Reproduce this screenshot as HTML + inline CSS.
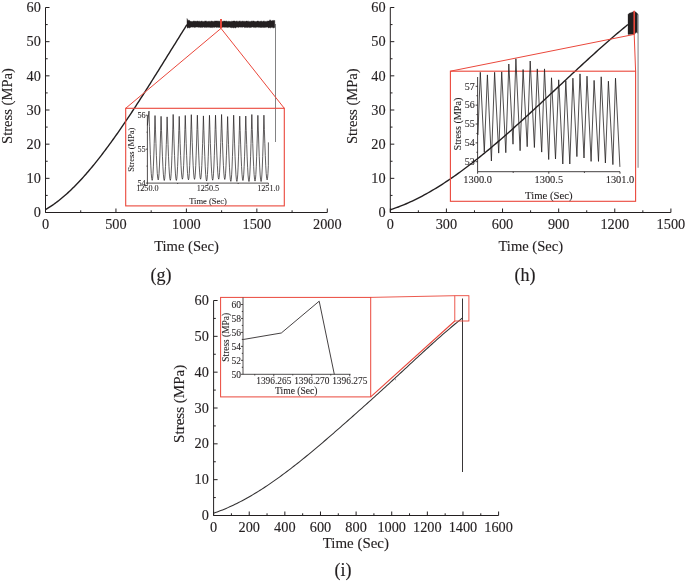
<!DOCTYPE html>
<html lang="en">
<head>
<meta charset="utf-8">
<title>Stress-time curves (g)-(i)</title>
<style>
html,body{margin:0;padding:0;background:#fff;}
body{width:685px;height:581px;overflow:hidden;}
svg{display:block;font-family:'Liberation Serif', 'DejaVu Serif', serif;}
</style>
</head>
<body>
<svg width="685" height="581" viewBox="0 0 685 581">
<rect x="0" y="0" width="685" height="581" fill="#ffffff"/>
<path d="M45.5 7.5 L45.5 212.5 L327.3 212.5" fill="none" stroke="#231f20" stroke-width="1.0" stroke-linejoin="miter" stroke-linecap="butt"/>
<line x1="45.5" y1="212.5" x2="45.5" y2="208.5" stroke="#231f20" stroke-width="1.0"/>
<line x1="115.95" y1="212.5" x2="115.95" y2="208.5" stroke="#231f20" stroke-width="1.0"/>
<line x1="186.4" y1="212.5" x2="186.4" y2="208.5" stroke="#231f20" stroke-width="1.0"/>
<line x1="256.85" y1="212.5" x2="256.85" y2="208.5" stroke="#231f20" stroke-width="1.0"/>
<line x1="327.3" y1="212.5" x2="327.3" y2="208.5" stroke="#231f20" stroke-width="1.0"/>
<line x1="80.72" y1="212.5" x2="80.72" y2="210.3" stroke="#231f20" stroke-width="1.0"/>
<line x1="151.18" y1="212.5" x2="151.18" y2="210.3" stroke="#231f20" stroke-width="1.0"/>
<line x1="221.62" y1="212.5" x2="221.62" y2="210.3" stroke="#231f20" stroke-width="1.0"/>
<line x1="292.08" y1="212.5" x2="292.08" y2="210.3" stroke="#231f20" stroke-width="1.0"/>
<line x1="45.5" y1="212.5" x2="49.5" y2="212.5" stroke="#231f20" stroke-width="1.0"/>
<line x1="45.5" y1="178.33" x2="49.5" y2="178.33" stroke="#231f20" stroke-width="1.0"/>
<line x1="45.5" y1="144.17" x2="49.5" y2="144.17" stroke="#231f20" stroke-width="1.0"/>
<line x1="45.5" y1="110" x2="49.5" y2="110" stroke="#231f20" stroke-width="1.0"/>
<line x1="45.5" y1="75.83" x2="49.5" y2="75.83" stroke="#231f20" stroke-width="1.0"/>
<line x1="45.5" y1="41.67" x2="49.5" y2="41.67" stroke="#231f20" stroke-width="1.0"/>
<line x1="45.5" y1="7.5" x2="49.5" y2="7.5" stroke="#231f20" stroke-width="1.0"/>
<line x1="45.5" y1="195.42" x2="47.7" y2="195.42" stroke="#231f20" stroke-width="1.0"/>
<line x1="45.5" y1="161.25" x2="47.7" y2="161.25" stroke="#231f20" stroke-width="1.0"/>
<line x1="45.5" y1="127.08" x2="47.7" y2="127.08" stroke="#231f20" stroke-width="1.0"/>
<line x1="45.5" y1="92.92" x2="47.7" y2="92.92" stroke="#231f20" stroke-width="1.0"/>
<line x1="45.5" y1="58.75" x2="47.7" y2="58.75" stroke="#231f20" stroke-width="1.0"/>
<line x1="45.5" y1="24.58" x2="47.7" y2="24.58" stroke="#231f20" stroke-width="1.0"/>
<text x="45.5" y="228.6" font-size="14.3" text-anchor="middle" fill="#231f20" stroke="#231f20" stroke-width="0.13">0</text>
<text x="115.95" y="228.6" font-size="14.3" text-anchor="middle" fill="#231f20" stroke="#231f20" stroke-width="0.13">500</text>
<text x="186.4" y="228.6" font-size="14.3" text-anchor="middle" fill="#231f20" stroke="#231f20" stroke-width="0.13">1000</text>
<text x="256.85" y="228.6" font-size="14.3" text-anchor="middle" fill="#231f20" stroke="#231f20" stroke-width="0.13">1500</text>
<text x="327.3" y="228.6" font-size="14.3" text-anchor="middle" fill="#231f20" stroke="#231f20" stroke-width="0.13">2000</text>
<text x="40.9" y="217.2" font-size="14.3" text-anchor="end" fill="#231f20" stroke="#231f20" stroke-width="0.13">0</text>
<text x="40.9" y="183.03" font-size="14.3" text-anchor="end" fill="#231f20" stroke="#231f20" stroke-width="0.13">10</text>
<text x="40.9" y="148.87" font-size="14.3" text-anchor="end" fill="#231f20" stroke="#231f20" stroke-width="0.13">20</text>
<text x="40.9" y="114.7" font-size="14.3" text-anchor="end" fill="#231f20" stroke="#231f20" stroke-width="0.13">30</text>
<text x="40.9" y="80.53" font-size="14.3" text-anchor="end" fill="#231f20" stroke="#231f20" stroke-width="0.13">40</text>
<text x="40.9" y="46.37" font-size="14.3" text-anchor="end" fill="#231f20" stroke="#231f20" stroke-width="0.13">50</text>
<text x="40.9" y="12.2" font-size="14.3" text-anchor="end" fill="#231f20" stroke="#231f20" stroke-width="0.13">60</text>
<text x="186.5" y="250.5" font-size="14.6" text-anchor="middle" fill="#231f20" stroke="#231f20" stroke-width="0.13">Time (Sec)</text>
<text x="11.5" y="106" font-size="14.6" text-anchor="middle" fill="#231f20" stroke="#231f20" stroke-width="0.13" transform="rotate(-90 11.5 106)">Stress (MPa)</text>
<text x="161" y="280.5" font-size="18" text-anchor="middle" fill="#231f20" stroke="#231f20" stroke-width="0.16">(g)</text>
<path d="M45.5 209.62 L46.69 208.92 L47.88 208.2 L49.06 207.46 L50.25 206.69 L51.44 205.91 L52.63 205.1 L53.82 204.26 L55.01 203.41 L56.19 202.53 L57.38 201.63 L58.57 200.71 L59.76 199.77 L60.95 198.81 L62.13 197.83 L63.32 196.83 L64.51 195.8 L65.7 194.76 L66.89 193.7 L68.08 192.61 L69.26 191.51 L70.45 190.39 L71.64 189.25 L72.83 188.1 L74.02 186.92 L75.2 185.73 L76.39 184.51 L77.58 183.28 L78.77 182.04 L79.96 180.77 L81.15 179.49 L82.33 178.19 L83.52 176.88 L84.71 175.54 L85.9 174.2 L87.09 172.83 L88.27 171.45 L89.46 170.06 L90.65 168.65 L91.84 167.23 L93.03 165.79 L94.22 164.33 L95.4 162.86 L96.59 161.38 L97.78 159.88 L98.97 158.37 L100.16 156.85 L101.34 155.32 L102.53 153.77 L103.72 152.2 L104.91 150.63 L106.1 149.04 L107.29 147.44 L108.47 145.83 L109.66 144.21 L110.85 142.58 L112.04 140.93 L113.23 139.28 L114.41 137.61 L115.6 135.93 L116.79 134.25 L117.98 132.55 L119.17 130.84 L120.36 129.13 L121.54 127.4 L122.73 125.66 L123.92 123.92 L125.11 122.17 L126.3 120.41 L127.48 118.64 L128.67 116.86 L129.86 115.08 L131.05 113.28 L132.24 111.49 L133.43 109.68 L134.61 107.87 L135.8 106.05 L136.99 104.22 L138.18 102.39 L139.37 100.55 L140.55 98.7 L141.74 96.85 L142.93 95 L144.12 93.14 L145.31 91.27 L146.5 89.4 L147.68 87.53 L148.87 85.65 L150.06 83.77 L151.25 81.89 L152.44 80 L153.62 78.11 L154.81 76.21 L156 74.31 L157.19 72.41 L158.38 70.51 L159.57 68.6 L160.75 66.7 L161.94 64.79 L163.13 62.88 L164.32 60.97 L165.51 59.06 L166.69 57.14 L167.88 55.23 L169.07 53.32 L170.26 51.4 L171.45 49.49 L172.64 47.58 L173.82 45.67 L175.01 43.76 L176.2 41.85 L177.39 39.94 L178.58 38.03 L179.76 36.12 L180.95 34.22 L182.14 32.32 L183.33 30.42 L184.52 28.52 L185.7 26.63 L186.89 24.74" fill="none" stroke="#231f20" stroke-width="1.4" stroke-linejoin="round" stroke-linecap="butt"/>
<path d="M187 18.5 L187.8 20.58 L188.6 20.24 L189.39 20.3 L190.19 21.33 L190.99 21.3 L191.79 21.54 L192.59 21.47 L193.39 21.04 L194.18 21.14 L194.98 21.06 L195.78 21.33 L196.58 21.28 L197.38 20.99 L198.17 21.36 L198.97 21.14 L199.77 21.22 L200.57 21.43 L201.37 21.1 L202.17 21.27 L202.96 21.39 L203.76 21.54 L204.56 21.2 L205.36 21.04 L206.16 20.97 L206.95 21.41 L207.75 21.48 L208.55 21.37 L209.35 21.3 L210.15 21.45 L210.95 21.23 L211.74 20.99 L212.54 21.34 L213.34 21.44 L214.14 21.18 L214.94 20.96 L215.73 21.05 L216.53 20.99 L217.33 21.03 L218.13 21.18 L218.93 21 L219.73 21.28 L220.52 21.44 L221.32 21.12 L222.12 21.17 L222.92 21.52 L223.72 21.06 L224.51 21.09 L225.31 21.3 L226.11 20.95 L226.91 21.17 L227.71 21.52 L228.51 21.26 L229.3 21.36 L230.1 21.49 L230.9 21.47 L231.7 21.19 L232.5 21.33 L233.29 21.08 L234.09 20.98 L234.89 21.01 L235.69 21.47 L236.49 21.1 L237.29 21.17 L238.08 21.46 L238.88 21.23 L239.68 21 L240.48 21.16 L241.28 21.45 L242.07 20.96 L242.87 21.27 L243.67 21.28 L244.47 21.27 L245.27 21.47 L246.07 21.11 L246.86 21.05 L247.66 21.27 L248.46 21.15 L249.26 21.44 L250.06 21.46 L250.85 21.44 L251.65 21.09 L252.45 21.16 L253.25 20.97 L254.05 21.11 L254.85 21.52 L255.64 21.51 L256.44 21.52 L257.24 21.08 L258.04 21.07 L258.84 21.32 L259.63 21.45 L260.43 21.34 L261.23 21 L262.03 21.5 L262.83 21.4 L263.63 21.06 L264.42 21.15 L265.22 21.53 L266.02 21.19 L266.82 21.38 L267.62 21.03 L268.41 21.12 L269.21 20.92 L270.01 19.66 L270.81 20.55 L271.61 20.94 L272.41 20.58 L273.2 20.4 L274 20.6 L274.8 20.42 L274.8 27.33 L274 28.09 L273.2 27.82 L272.41 27.6 L271.61 27.3 L270.81 28.08 L270.01 27.4 L269.21 27.72 L268.41 27.98 L267.62 27.09 L266.82 27.1 L266.02 27.57 L265.22 27.24 L264.42 27.48 L263.63 27.47 L262.83 27.29 L262.03 27.47 L261.23 27.4 L260.43 27.48 L259.63 27.29 L258.84 27.54 L258.04 27.12 L257.24 27.14 L256.44 27.22 L255.64 27.59 L254.85 27.27 L254.05 27.42 L253.25 27.17 L252.45 27.02 L251.65 27.31 L250.85 27.44 L250.06 27.48 L249.26 27.59 L248.46 27.13 L247.66 27.47 L246.86 27.46 L246.07 27.22 L245.27 27.42 L244.47 27.59 L243.67 27.02 L242.87 27.09 L242.07 27.57 L241.28 27.1 L240.48 27.16 L239.68 27.06 L238.88 27.29 L238.08 27.6 L237.29 27.07 L236.49 27.21 L235.69 27.95 L234.89 27.65 L234.09 27.58 L233.29 27.91 L232.5 27.52 L231.7 27.76 L230.9 27.48 L230.1 27.47 L229.3 27.03 L228.51 27.37 L227.71 27.41 L226.91 27.34 L226.11 27.25 L225.31 27.16 L224.51 27.29 L223.72 27.14 L222.92 27.09 L222.12 27.53 L221.32 27.25 L220.52 27.52 L219.73 27.53 L218.93 27.27 L218.13 27.52 L217.33 27.15 L216.53 27.46 L215.73 27.07 L214.94 27.28 L214.14 27.4 L213.34 27.17 L212.54 27.6 L211.74 27.42 L210.95 27.4 L210.15 27.57 L209.35 27.27 L208.55 27.36 L207.75 27.19 L206.95 27.34 L206.16 27.4 L205.36 27.29 L204.56 27.45 L203.76 27.07 L202.96 27.17 L202.17 27.53 L201.37 27.34 L200.57 27.42 L199.77 27.18 L198.97 27.35 L198.17 27.26 L197.38 27.12 L196.58 27.04 L195.78 27.22 L194.98 27.35 L194.18 27.49 L193.39 27.07 L192.59 27.17 L191.79 27.03 L190.99 27.24 L190.19 27.57 L189.39 28.01 L188.6 27.59 L187.8 28.13 L187 27.39 Z" fill="#231f20" stroke="#231f20" stroke-width="0.4" stroke-linejoin="round" stroke-linecap="butt"/>
<line x1="275.5" y1="24" x2="275.5" y2="142" stroke="#58595b" stroke-width="0.75"/>
<line x1="221" y1="18.9" x2="221" y2="28.4" stroke="#ea473b" stroke-width="1.9"/>
<path d="M125.7 108.3 L221 28.4 L284.3 108.3" fill="none" stroke="#ea473b" stroke-width="1.0" stroke-linejoin="miter" stroke-linecap="butt"/>
<rect x="125.7" y="108.3" width="158.6" height="97.6" fill="none" stroke="#ea473b" stroke-width="1.1"/>
<path d="M147.4 115.2 L147.4 183.1 L268.4 183.1" fill="none" stroke="#231f20" stroke-width="0.8" stroke-linejoin="miter" stroke-linecap="butt"/>
<line x1="147.4" y1="183.1" x2="147.4" y2="184.7" stroke="#231f20" stroke-width="0.8"/>
<line x1="207.9" y1="183.1" x2="207.9" y2="184.7" stroke="#231f20" stroke-width="0.8"/>
<line x1="268.4" y1="183.1" x2="268.4" y2="184.7" stroke="#231f20" stroke-width="0.8"/>
<line x1="177.65" y1="183.1" x2="177.65" y2="184" stroke="#231f20" stroke-width="0.8"/>
<line x1="238.15" y1="183.1" x2="238.15" y2="184" stroke="#231f20" stroke-width="0.8"/>
<line x1="147.4" y1="183.1" x2="145.8" y2="183.1" stroke="#231f20" stroke-width="0.8"/>
<line x1="147.4" y1="149.15" x2="145.8" y2="149.15" stroke="#231f20" stroke-width="0.8"/>
<line x1="147.4" y1="115.2" x2="145.8" y2="115.2" stroke="#231f20" stroke-width="0.8"/>
<line x1="147.4" y1="166.12" x2="146.5" y2="166.12" stroke="#231f20" stroke-width="0.8"/>
<line x1="147.4" y1="132.18" x2="146.5" y2="132.18" stroke="#231f20" stroke-width="0.8"/>
<text x="147.4" y="190.9" font-size="8.2" text-anchor="middle" fill="#231f20" stroke="#231f20" stroke-width="0.07">1250.0</text>
<text x="207.9" y="190.9" font-size="8.2" text-anchor="middle" fill="#231f20" stroke="#231f20" stroke-width="0.07">1250.5</text>
<text x="268.4" y="190.9" font-size="8.2" text-anchor="middle" fill="#231f20" stroke="#231f20" stroke-width="0.07">1251.0</text>
<text x="145.7" y="185.7" font-size="8.2" text-anchor="end" fill="#231f20" stroke="#231f20" stroke-width="0.07">54</text>
<text x="145.7" y="151.75" font-size="8.2" text-anchor="end" fill="#231f20" stroke="#231f20" stroke-width="0.07">55</text>
<text x="145.7" y="117.8" font-size="8.2" text-anchor="end" fill="#231f20" stroke="#231f20" stroke-width="0.07">56</text>
<text x="208" y="203.9" font-size="8.5" text-anchor="middle" fill="#231f20" stroke="#231f20" stroke-width="0.08">Time (Sec)</text>
<text x="134.4" y="149.7" font-size="8.5" text-anchor="middle" fill="#231f20" stroke="#231f20" stroke-width="0.08" transform="rotate(-90 134.4 149.7)">Stress (MPa)</text>
<path d="M147.4 125.38 L148.97 111.13 L149.43 126.53 L149.89 141.16 L150.35 154.29 L150.81 165.25 L151.26 173.5 L151.72 178.62 L152.18 180.35 L152.59 178.73 L152.99 173.93 L153.4 166.21 L153.8 155.95 L154.21 143.67 L154.62 129.97 L155.02 115.55 L155.48 129.86 L155.94 143.45 L156.4 155.65 L156.86 165.83 L157.31 173.49 L157.77 178.25 L158.23 179.86 L158.64 178.27 L159.04 173.57 L159.45 166 L159.85 155.94 L160.26 143.9 L160.67 130.47 L161.07 116.34 L161.53 130.62 L161.99 144.18 L162.45 156.35 L162.91 166.51 L163.36 174.16 L163.82 178.9 L164.28 180.51 L164.69 178.92 L165.09 174.21 L165.5 166.63 L165.9 156.56 L166.31 144.49 L166.72 131.04 L167.12 116.89 L167.58 131 L168.04 144.4 L168.5 156.42 L168.96 166.46 L169.41 174.01 L169.87 178.7 L170.33 180.29 L170.74 178.64 L171.14 173.77 L171.55 165.93 L171.95 155.5 L172.36 143.02 L172.77 129.11 L173.17 114.46 L173.63 129.14 L174.09 143.09 L174.55 155.6 L175.01 166.05 L175.46 173.91 L175.92 178.79 L176.38 180.44 L176.79 178.84 L177.19 174.1 L177.6 166.46 L178 156.32 L178.41 144.17 L178.82 130.63 L179.22 116.37 L179.68 130.35 L180.14 143.62 L180.6 155.53 L181.06 165.48 L181.51 172.96 L181.97 177.61 L182.43 179.18 L182.84 177.59 L183.24 172.87 L183.65 165.28 L184.05 155.19 L184.46 143.1 L184.87 129.63 L185.27 115.45 L185.73 129.78 L186.19 143.39 L186.65 155.6 L187.11 165.79 L187.56 173.47 L188.02 178.23 L188.48 179.84 L188.89 178.21 L189.29 173.39 L189.7 165.63 L190.1 155.31 L190.51 142.95 L190.92 129.18 L191.32 114.68 L191.78 129.07 L192.24 142.75 L192.7 155.01 L193.16 165.25 L193.61 172.96 L194.07 177.74 L194.53 179.36 L194.94 177.75 L195.34 173.01 L195.75 165.36 L196.15 155.2 L196.56 143.04 L196.97 129.48 L197.37 115.2 L197.83 129.44 L198.29 142.96 L198.75 155.09 L199.21 165.22 L199.66 172.85 L200.12 177.58 L200.58 179.18 L200.99 177.6 L201.39 172.92 L201.8 165.38 L202.2 155.36 L202.61 143.36 L203.02 129.98 L203.42 115.9 L203.88 130.4 L204.34 144.16 L204.8 156.51 L205.26 166.83 L205.71 174.59 L206.17 179.4 L206.63 181.04 L207.04 179.39 L207.44 174.53 L207.85 166.7 L208.25 156.29 L208.66 143.83 L209.07 129.94 L209.47 115.31 L209.93 129.76 L210.39 143.48 L210.85 155.78 L211.31 166.06 L211.76 173.79 L212.22 178.59 L212.68 180.22 L213.09 178.59 L213.49 173.78 L213.9 166.04 L214.3 155.74 L214.71 143.41 L215.12 129.67 L215.52 115.2 L215.98 129.44 L216.44 142.96 L216.9 155.09 L217.36 165.22 L217.81 172.84 L218.27 177.58 L218.73 179.18 L219.14 177.56 L219.54 172.77 L219.95 165.07 L220.35 154.83 L220.76 142.56 L221.17 128.89 L221.57 114.5 L222.03 128.96 L222.49 142.69 L222.95 155 L223.41 165.29 L223.86 173.03 L224.32 177.83 L224.78 179.46 L225.19 177.88 L225.59 173.23 L226 165.74 L226.4 155.78 L226.81 143.86 L227.22 130.57 L227.62 116.57 L228.08 130.99 L228.54 144.69 L229 156.97 L229.46 167.23 L229.91 174.95 L230.37 179.74 L230.83 181.37 L231.24 179.71 L231.64 174.82 L232.05 166.93 L232.45 156.45 L232.86 143.9 L233.27 129.91 L233.67 115.19 L234.13 129.92 L234.59 143.92 L235.05 156.48 L235.51 166.96 L235.96 174.85 L236.42 179.75 L236.88 181.41 L237.29 179.78 L237.69 174.95 L238.1 167.17 L238.5 156.84 L238.91 144.46 L239.32 130.66 L239.72 116.14 L240.18 130.47 L240.64 144.08 L241.1 156.29 L241.56 166.49 L242.01 174.16 L242.47 178.93 L242.93 180.54 L243.34 178.92 L243.74 174.15 L244.15 166.47 L244.55 156.26 L244.96 144.03 L245.37 130.4 L245.77 116.05 L246.23 130.63 L246.69 144.47 L247.15 156.89 L247.61 167.26 L248.06 175.06 L248.52 179.9 L248.98 181.54 L249.39 179.86 L249.79 174.91 L250.2 166.93 L250.6 156.32 L251.01 143.61 L251.42 129.45 L251.82 114.54 L252.28 129.35 L252.74 143.41 L253.2 156.03 L253.66 166.57 L254.11 174.5 L254.57 179.42 L255.03 181.09 L255.44 179.44 L255.84 174.58 L256.25 166.75 L256.65 156.34 L257.06 143.87 L257.47 129.98 L257.87 115.35 L258.33 130.08 L258.79 144.07 L259.25 156.62 L259.71 167.1 L260.16 174.99 L260.62 179.88 L261.08 181.54 L261.49 179.88 L261.89 174.97 L262.3 167.07 L262.7 156.56 L263.11 143.97 L263.52 129.95 L263.92 115.18 L264.38 129.59 L264.84 143.27 L265.3 155.55 L265.76 165.8 L266.21 173.51 L266.67 178.3 L267.13 179.92 L267.54 178.29 L267.94 173.45 L268.35 165.67 L268.4 142.36" fill="none" stroke="#231f20" stroke-width="0.72" stroke-linejoin="round" stroke-linecap="butt"/>
<path d="M390.3 7.5 L390.3 212.5 L670.9 212.5" fill="none" stroke="#231f20" stroke-width="1.0" stroke-linejoin="miter" stroke-linecap="butt"/>
<line x1="390.3" y1="212.5" x2="390.3" y2="208.5" stroke="#231f20" stroke-width="1.0"/>
<line x1="446.42" y1="212.5" x2="446.42" y2="208.5" stroke="#231f20" stroke-width="1.0"/>
<line x1="502.54" y1="212.5" x2="502.54" y2="208.5" stroke="#231f20" stroke-width="1.0"/>
<line x1="558.66" y1="212.5" x2="558.66" y2="208.5" stroke="#231f20" stroke-width="1.0"/>
<line x1="614.78" y1="212.5" x2="614.78" y2="208.5" stroke="#231f20" stroke-width="1.0"/>
<line x1="670.9" y1="212.5" x2="670.9" y2="208.5" stroke="#231f20" stroke-width="1.0"/>
<line x1="418.36" y1="212.5" x2="418.36" y2="210.3" stroke="#231f20" stroke-width="1.0"/>
<line x1="474.48" y1="212.5" x2="474.48" y2="210.3" stroke="#231f20" stroke-width="1.0"/>
<line x1="530.6" y1="212.5" x2="530.6" y2="210.3" stroke="#231f20" stroke-width="1.0"/>
<line x1="586.72" y1="212.5" x2="586.72" y2="210.3" stroke="#231f20" stroke-width="1.0"/>
<line x1="642.84" y1="212.5" x2="642.84" y2="210.3" stroke="#231f20" stroke-width="1.0"/>
<line x1="390.3" y1="212.5" x2="394.3" y2="212.5" stroke="#231f20" stroke-width="1.0"/>
<line x1="390.3" y1="178.33" x2="394.3" y2="178.33" stroke="#231f20" stroke-width="1.0"/>
<line x1="390.3" y1="144.17" x2="394.3" y2="144.17" stroke="#231f20" stroke-width="1.0"/>
<line x1="390.3" y1="110" x2="394.3" y2="110" stroke="#231f20" stroke-width="1.0"/>
<line x1="390.3" y1="75.83" x2="394.3" y2="75.83" stroke="#231f20" stroke-width="1.0"/>
<line x1="390.3" y1="41.67" x2="394.3" y2="41.67" stroke="#231f20" stroke-width="1.0"/>
<line x1="390.3" y1="7.5" x2="394.3" y2="7.5" stroke="#231f20" stroke-width="1.0"/>
<line x1="390.3" y1="195.42" x2="392.5" y2="195.42" stroke="#231f20" stroke-width="1.0"/>
<line x1="390.3" y1="161.25" x2="392.5" y2="161.25" stroke="#231f20" stroke-width="1.0"/>
<line x1="390.3" y1="127.08" x2="392.5" y2="127.08" stroke="#231f20" stroke-width="1.0"/>
<line x1="390.3" y1="92.92" x2="392.5" y2="92.92" stroke="#231f20" stroke-width="1.0"/>
<line x1="390.3" y1="58.75" x2="392.5" y2="58.75" stroke="#231f20" stroke-width="1.0"/>
<line x1="390.3" y1="24.58" x2="392.5" y2="24.58" stroke="#231f20" stroke-width="1.0"/>
<text x="390.3" y="228.7" font-size="14.3" text-anchor="middle" fill="#231f20" stroke="#231f20" stroke-width="0.13">0</text>
<text x="446.42" y="228.7" font-size="14.3" text-anchor="middle" fill="#231f20" stroke="#231f20" stroke-width="0.13">300</text>
<text x="502.54" y="228.7" font-size="14.3" text-anchor="middle" fill="#231f20" stroke="#231f20" stroke-width="0.13">600</text>
<text x="558.66" y="228.7" font-size="14.3" text-anchor="middle" fill="#231f20" stroke="#231f20" stroke-width="0.13">900</text>
<text x="614.78" y="228.7" font-size="14.3" text-anchor="middle" fill="#231f20" stroke="#231f20" stroke-width="0.13">1200</text>
<text x="670.9" y="228.7" font-size="14.3" text-anchor="middle" fill="#231f20" stroke="#231f20" stroke-width="0.13">1500</text>
<text x="385.6" y="217.2" font-size="14.3" text-anchor="end" fill="#231f20" stroke="#231f20" stroke-width="0.13">0</text>
<text x="385.6" y="183.03" font-size="14.3" text-anchor="end" fill="#231f20" stroke="#231f20" stroke-width="0.13">10</text>
<text x="385.6" y="148.87" font-size="14.3" text-anchor="end" fill="#231f20" stroke="#231f20" stroke-width="0.13">20</text>
<text x="385.6" y="114.7" font-size="14.3" text-anchor="end" fill="#231f20" stroke="#231f20" stroke-width="0.13">30</text>
<text x="385.6" y="80.53" font-size="14.3" text-anchor="end" fill="#231f20" stroke="#231f20" stroke-width="0.13">40</text>
<text x="385.6" y="46.37" font-size="14.3" text-anchor="end" fill="#231f20" stroke="#231f20" stroke-width="0.13">50</text>
<text x="385.6" y="12.2" font-size="14.3" text-anchor="end" fill="#231f20" stroke="#231f20" stroke-width="0.13">60</text>
<text x="530.8" y="251.2" font-size="14.6" text-anchor="middle" fill="#231f20" stroke="#231f20" stroke-width="0.13">Time (Sec)</text>
<text x="357.4" y="106.2" font-size="14.6" text-anchor="middle" fill="#231f20" stroke="#231f20" stroke-width="0.13" transform="rotate(-90 357.4 106.2)">Stress (MPa)</text>
<text x="525" y="281" font-size="18" text-anchor="middle" fill="#231f20" stroke="#231f20" stroke-width="0.16">(h)</text>
<path d="M390.3 209.74 L392.3 209.09 L394.29 208.42 L396.29 207.71 L398.29 206.98 L400.28 206.21 L402.28 205.42 L404.27 204.6 L406.27 203.76 L408.27 202.88 L410.26 201.98 L412.26 201.06 L414.26 200.11 L416.25 199.13 L418.25 198.13 L420.25 197.1 L422.24 196.05 L424.24 194.98 L426.24 193.88 L428.23 192.76 L430.23 191.61 L432.22 190.45 L434.22 189.26 L436.22 188.05 L438.21 186.82 L440.21 185.56 L442.21 184.29 L444.2 183 L446.2 181.68 L448.2 180.35 L450.19 178.99 L452.19 177.62 L454.19 176.23 L456.18 174.82 L458.18 173.4 L460.17 171.95 L462.17 170.49 L464.17 169.01 L466.16 167.52 L468.16 166.01 L470.16 164.48 L472.15 162.94 L474.15 161.38 L476.15 159.81 L478.14 158.22 L480.14 156.62 L482.14 155.01 L484.13 153.38 L486.13 151.74 L488.12 150.09 L490.12 148.42 L492.12 146.75 L494.11 145.06 L496.11 143.36 L498.11 141.65 L500.1 139.93 L502.1 138.2 L504.1 136.46 L506.09 134.71 L508.09 132.96 L510.09 131.19 L512.08 129.41 L514.08 127.63 L516.07 125.84 L518.07 124.04 L520.07 122.24 L522.06 120.43 L524.06 118.61 L526.06 116.79 L528.05 114.96 L530.05 113.13 L532.05 111.29 L534.04 109.45 L536.04 107.6 L538.04 105.75 L540.03 103.9 L542.03 102.04 L544.02 100.18 L546.02 98.32 L548.02 96.46 L550.01 94.6 L552.01 92.73 L554.01 90.87 L556 89 L558 87.13 L560 85.27 L561.99 83.4 L563.99 81.54 L565.99 79.68 L567.98 77.81 L569.98 75.96 L571.97 74.1 L573.97 72.24 L575.97 70.39 L577.96 68.55 L579.96 66.7 L581.96 64.86 L583.95 63.03 L585.95 61.2 L587.95 59.38 L589.94 57.56 L591.94 55.75 L593.94 53.94 L595.93 52.14 L597.93 50.35 L599.92 48.56 L601.92 46.79 L603.92 45.02 L605.91 43.26 L607.91 41.51 L609.91 39.76 L611.9 38.03 L613.9 36.31 L615.9 34.59 L617.89 32.89 L619.89 31.2 L621.89 29.52 L623.88 27.85 L625.88 26.2 L627.87 24.56" fill="none" stroke="#231f20" stroke-width="1.4" stroke-linejoin="round" stroke-linecap="butt"/>
<path d="M628 14.4 L629.2 13.2 L631.5 12.4 L633.6 11.6 L634.9 11.4 L636.4 12.6 L637.9 14 L637.9 33.4 L636.2 32.2 L634.6 34.3 L628 34.4 Z" fill="#231f20" stroke="#231f20" stroke-width="0.3" stroke-linejoin="round" stroke-linecap="butt"/>
<line x1="638.1" y1="14.5" x2="638.1" y2="167.8" stroke="#a1a2a5" stroke-width="1.4"/>
<line x1="634.2" y1="10.8" x2="634.2" y2="34.4" stroke="#ea473b" stroke-width="1.6"/>
<path d="M450.4 71.2 L634.2 34.4 L635.6 71.2" fill="none" stroke="#ea473b" stroke-width="1.0" stroke-linejoin="miter" stroke-linecap="butt"/>
<rect x="450.4" y="71.2" width="185.2" height="130.1" fill="none" stroke="#ea473b" stroke-width="1.1"/>
<path d="M477.6 77 L477.6 171.7 L620 171.7" fill="none" stroke="#231f20" stroke-width="0.85" stroke-linejoin="miter" stroke-linecap="butt"/>
<line x1="477.6" y1="171.7" x2="477.6" y2="173.7" stroke="#231f20" stroke-width="0.85"/>
<line x1="548.8" y1="171.7" x2="548.8" y2="173.7" stroke="#231f20" stroke-width="0.85"/>
<line x1="620" y1="171.7" x2="620" y2="173.7" stroke="#231f20" stroke-width="0.85"/>
<line x1="513.2" y1="171.7" x2="513.2" y2="172.9" stroke="#231f20" stroke-width="0.85"/>
<line x1="584.4" y1="171.7" x2="584.4" y2="172.9" stroke="#231f20" stroke-width="0.85"/>
<line x1="477.6" y1="161.7" x2="475.6" y2="161.7" stroke="#231f20" stroke-width="0.85"/>
<line x1="477.6" y1="142.85" x2="475.6" y2="142.85" stroke="#231f20" stroke-width="0.85"/>
<line x1="477.6" y1="124" x2="475.6" y2="124" stroke="#231f20" stroke-width="0.85"/>
<line x1="477.6" y1="105.15" x2="475.6" y2="105.15" stroke="#231f20" stroke-width="0.85"/>
<line x1="477.6" y1="86.3" x2="475.6" y2="86.3" stroke="#231f20" stroke-width="0.85"/>
<line x1="477.6" y1="152.27" x2="476.4" y2="152.27" stroke="#231f20" stroke-width="0.85"/>
<line x1="477.6" y1="133.43" x2="476.4" y2="133.43" stroke="#231f20" stroke-width="0.85"/>
<line x1="477.6" y1="114.57" x2="476.4" y2="114.57" stroke="#231f20" stroke-width="0.85"/>
<line x1="477.6" y1="95.72" x2="476.4" y2="95.72" stroke="#231f20" stroke-width="0.85"/>
<text x="477.6" y="182.9" font-size="10.4" text-anchor="middle" fill="#231f20" stroke="#231f20" stroke-width="0.09">1300.0</text>
<text x="548.8" y="182.9" font-size="10.4" text-anchor="middle" fill="#231f20" stroke="#231f20" stroke-width="0.09">1300.5</text>
<text x="620" y="182.9" font-size="10.4" text-anchor="middle" fill="#231f20" stroke="#231f20" stroke-width="0.09">1301.0</text>
<text x="474.8" y="165" font-size="10.0" text-anchor="end" fill="#231f20" stroke="#231f20" stroke-width="0.09">53</text>
<text x="474.8" y="146.15" font-size="10.0" text-anchor="end" fill="#231f20" stroke="#231f20" stroke-width="0.09">54</text>
<text x="474.8" y="127.3" font-size="10.0" text-anchor="end" fill="#231f20" stroke="#231f20" stroke-width="0.09">55</text>
<text x="474.8" y="108.45" font-size="10.0" text-anchor="end" fill="#231f20" stroke="#231f20" stroke-width="0.09">56</text>
<text x="474.8" y="89.6" font-size="10.0" text-anchor="end" fill="#231f20" stroke="#231f20" stroke-width="0.09">57</text>
<text x="548.8" y="199.2" font-size="10.7" text-anchor="middle" fill="#231f20" stroke="#231f20" stroke-width="0.1">Time (Sec)</text>
<text x="461.4" y="124" font-size="10.2" text-anchor="middle" fill="#231f20" stroke="#231f20" stroke-width="0.09" transform="rotate(-90 461.4 124)">Stress (MPa)</text>
<path d="M477.9 135 L480.3 72.3 L484.3 152.1 L487.4 74.9 L491.4 161 L494.6 72.3 L498.7 153.1 L501.7 71.9 L505.8 152.7 L508.8 64 L513 144.2 L515.9 58.8 L520.1 150.7 L523.1 69.5 L527.2 146.7 L530.2 61 L534.4 147.5 L537.3 68.9 L541.7 152.1 L544.5 68.9 L548.7 159.5 L551.5 77.8 L555.5 159 L558.7 79.8 L562.8 164 L565.8 80.8 L569.8 164 L572.9 78.2 L576.9 156.6 L580 73.9 L584 158 L587 76.2 L591.1 161.4 L594.1 80.4 L598.5 161.4 L601.2 76.8 L605.4 163 L608.4 81.2 L612.9 164.6 L615.5 78.2 L619.9 166.9" fill="none" stroke="#231f20" stroke-width="0.8" stroke-linejoin="miter" stroke-linecap="butt"/>
<path d="M213.6 300.5 L213.6 515.5 L498.6 515.5" fill="none" stroke="#231f20" stroke-width="1.0" stroke-linejoin="miter" stroke-linecap="butt"/>
<line x1="213.6" y1="515.5" x2="213.6" y2="511.5" stroke="#231f20" stroke-width="1.0"/>
<line x1="249.22" y1="515.5" x2="249.22" y2="511.5" stroke="#231f20" stroke-width="1.0"/>
<line x1="284.85" y1="515.5" x2="284.85" y2="511.5" stroke="#231f20" stroke-width="1.0"/>
<line x1="320.48" y1="515.5" x2="320.48" y2="511.5" stroke="#231f20" stroke-width="1.0"/>
<line x1="356.1" y1="515.5" x2="356.1" y2="511.5" stroke="#231f20" stroke-width="1.0"/>
<line x1="391.73" y1="515.5" x2="391.73" y2="511.5" stroke="#231f20" stroke-width="1.0"/>
<line x1="427.35" y1="515.5" x2="427.35" y2="511.5" stroke="#231f20" stroke-width="1.0"/>
<line x1="462.98" y1="515.5" x2="462.98" y2="511.5" stroke="#231f20" stroke-width="1.0"/>
<line x1="498.6" y1="515.5" x2="498.6" y2="511.5" stroke="#231f20" stroke-width="1.0"/>
<line x1="231.41" y1="515.5" x2="231.41" y2="513.3" stroke="#231f20" stroke-width="1.0"/>
<line x1="267.04" y1="515.5" x2="267.04" y2="513.3" stroke="#231f20" stroke-width="1.0"/>
<line x1="302.66" y1="515.5" x2="302.66" y2="513.3" stroke="#231f20" stroke-width="1.0"/>
<line x1="338.29" y1="515.5" x2="338.29" y2="513.3" stroke="#231f20" stroke-width="1.0"/>
<line x1="373.91" y1="515.5" x2="373.91" y2="513.3" stroke="#231f20" stroke-width="1.0"/>
<line x1="409.54" y1="515.5" x2="409.54" y2="513.3" stroke="#231f20" stroke-width="1.0"/>
<line x1="445.16" y1="515.5" x2="445.16" y2="513.3" stroke="#231f20" stroke-width="1.0"/>
<line x1="480.79" y1="515.5" x2="480.79" y2="513.3" stroke="#231f20" stroke-width="1.0"/>
<line x1="213.6" y1="515.5" x2="217.6" y2="515.5" stroke="#231f20" stroke-width="1.0"/>
<line x1="213.6" y1="479.67" x2="217.6" y2="479.67" stroke="#231f20" stroke-width="1.0"/>
<line x1="213.6" y1="443.83" x2="217.6" y2="443.83" stroke="#231f20" stroke-width="1.0"/>
<line x1="213.6" y1="408" x2="217.6" y2="408" stroke="#231f20" stroke-width="1.0"/>
<line x1="213.6" y1="372.17" x2="217.6" y2="372.17" stroke="#231f20" stroke-width="1.0"/>
<line x1="213.6" y1="336.33" x2="217.6" y2="336.33" stroke="#231f20" stroke-width="1.0"/>
<line x1="213.6" y1="300.5" x2="217.6" y2="300.5" stroke="#231f20" stroke-width="1.0"/>
<line x1="213.6" y1="497.58" x2="215.8" y2="497.58" stroke="#231f20" stroke-width="1.0"/>
<line x1="213.6" y1="461.75" x2="215.8" y2="461.75" stroke="#231f20" stroke-width="1.0"/>
<line x1="213.6" y1="425.92" x2="215.8" y2="425.92" stroke="#231f20" stroke-width="1.0"/>
<line x1="213.6" y1="390.08" x2="215.8" y2="390.08" stroke="#231f20" stroke-width="1.0"/>
<line x1="213.6" y1="354.25" x2="215.8" y2="354.25" stroke="#231f20" stroke-width="1.0"/>
<line x1="213.6" y1="318.42" x2="215.8" y2="318.42" stroke="#231f20" stroke-width="1.0"/>
<text x="213.6" y="531.8" font-size="14.3" text-anchor="middle" fill="#231f20" stroke="#231f20" stroke-width="0.13">0</text>
<text x="249.22" y="531.8" font-size="14.3" text-anchor="middle" fill="#231f20" stroke="#231f20" stroke-width="0.13">200</text>
<text x="284.85" y="531.8" font-size="14.3" text-anchor="middle" fill="#231f20" stroke="#231f20" stroke-width="0.13">400</text>
<text x="320.48" y="531.8" font-size="14.3" text-anchor="middle" fill="#231f20" stroke="#231f20" stroke-width="0.13">600</text>
<text x="356.1" y="531.8" font-size="14.3" text-anchor="middle" fill="#231f20" stroke="#231f20" stroke-width="0.13">800</text>
<text x="391.73" y="531.8" font-size="14.3" text-anchor="middle" fill="#231f20" stroke="#231f20" stroke-width="0.13">1000</text>
<text x="427.35" y="531.8" font-size="14.3" text-anchor="middle" fill="#231f20" stroke="#231f20" stroke-width="0.13">1200</text>
<text x="462.98" y="531.8" font-size="14.3" text-anchor="middle" fill="#231f20" stroke="#231f20" stroke-width="0.13">1400</text>
<text x="498.6" y="531.8" font-size="14.3" text-anchor="middle" fill="#231f20" stroke="#231f20" stroke-width="0.13">1600</text>
<text x="208.8" y="520" font-size="14.3" text-anchor="end" fill="#231f20" stroke="#231f20" stroke-width="0.13">0</text>
<text x="208.8" y="484.17" font-size="14.3" text-anchor="end" fill="#231f20" stroke="#231f20" stroke-width="0.13">10</text>
<text x="208.8" y="448.33" font-size="14.3" text-anchor="end" fill="#231f20" stroke="#231f20" stroke-width="0.13">20</text>
<text x="208.8" y="412.5" font-size="14.3" text-anchor="end" fill="#231f20" stroke="#231f20" stroke-width="0.13">30</text>
<text x="208.8" y="376.67" font-size="14.3" text-anchor="end" fill="#231f20" stroke="#231f20" stroke-width="0.13">40</text>
<text x="208.8" y="340.83" font-size="14.3" text-anchor="end" fill="#231f20" stroke="#231f20" stroke-width="0.13">50</text>
<text x="208.8" y="305" font-size="14.3" text-anchor="end" fill="#231f20" stroke="#231f20" stroke-width="0.13">60</text>
<text x="355.8" y="548.2" font-size="14.95" text-anchor="middle" fill="#231f20" stroke="#231f20" stroke-width="0.13">Time (Sec)</text>
<text x="183.6" y="403.8" font-size="15.05" text-anchor="middle" fill="#231f20" stroke="#231f20" stroke-width="0.14" transform="rotate(-90 183.6 403.8)">Stress (MPa)</text>
<text x="343" y="575.6" font-size="18" text-anchor="middle" fill="#231f20" stroke="#231f20" stroke-width="0.16">(i)</text>
<path d="M213.6 513.16 L215.39 512.55 L217.18 511.92 L218.96 511.27 L220.75 510.59 L222.54 509.89 L224.33 509.16 L226.12 508.41 L227.91 507.64 L229.69 506.85 L231.48 506.03 L233.27 505.2 L235.06 504.34 L236.85 503.46 L238.64 502.56 L240.42 501.64 L242.21 500.69 L244 499.73 L245.79 498.75 L247.58 497.75 L249.37 496.73 L251.15 495.7 L252.94 494.64 L254.73 493.57 L256.52 492.47 L258.31 491.37 L260.1 490.24 L261.88 489.1 L263.67 487.94 L265.46 486.76 L267.25 485.57 L269.04 484.37 L270.83 483.15 L272.61 481.91 L274.4 480.66 L276.19 479.39 L277.98 478.11 L279.77 476.82 L281.56 475.52 L283.34 474.2 L285.13 472.87 L286.92 471.52 L288.71 470.17 L290.5 468.8 L292.29 467.42 L294.07 466.03 L295.86 464.63 L297.65 463.22 L299.44 461.8 L301.23 460.37 L303.01 458.93 L304.8 457.48 L306.59 456.02 L308.38 454.55 L310.17 453.08 L311.96 451.59 L313.74 450.1 L315.53 448.6 L317.32 447.1 L319.11 445.59 L320.9 444.07 L322.69 442.54 L324.47 441.01 L326.26 439.48 L328.05 437.94 L329.84 436.39 L331.63 434.84 L333.42 433.29 L335.2 431.73 L336.99 430.17 L338.78 428.6 L340.57 427.03 L342.36 425.46 L344.15 423.89 L345.93 422.31 L347.72 420.74 L349.51 419.16 L351.3 417.58 L353.09 416 L354.88 414.41 L356.66 412.82 L358.45 411.23 L360.24 409.64 L362.03 408.05 L363.82 406.45 L365.61 404.85 L367.39 403.25 L369.18 401.64 L370.97 400.03 L372.76 398.42 L374.55 396.81 L376.34 395.19 L378.12 393.57 L379.91 391.95 L381.7 390.32 L383.49 388.69 L385.28 387.06 L387.06 385.42 L388.85 383.78 L390.64 382.14 L392.43 380.5 L394.22 378.85 L396.01 377.2 L397.79 375.55 L399.58 373.89 L401.37 372.24 L403.16 370.58 L404.95 368.92 L406.74 367.26 L408.52 365.6 L410.31 363.95 L412.1 362.29 L413.89 360.63 L415.68 358.98 L417.47 357.33 L419.25 355.68 L421.04 354.04 L422.83 352.4 L424.62 350.76 L426.41 349.13 L428.2 347.5 L429.98 345.88 L431.77 344.26 L433.56 342.65 L435.35 341.05 L437.14 339.46 L438.93 337.87 L440.71 336.29 L442.5 334.72 L444.29 333.16 L446.08 331.61 L447.87 330.07 L449.66 328.54 L451.44 327.02 L453.23 325.51 L455.02 324.01 L456.81 322.53 L458.6 321.06 L460.39 319.6 L462.17 318.15" fill="none" stroke="#333132" stroke-width="1.05" stroke-linejoin="round" stroke-linecap="butt"/>
<line x1="462.5" y1="298.5" x2="462.5" y2="472" stroke="#231f20" stroke-width="0.9"/>
<line x1="395.3" y1="378.4" x2="395.7" y2="380.3" stroke="#6d6e71" stroke-width="0.6"/>
<rect x="454.8" y="295.7" width="14.1" height="25.3" fill="none" stroke="#ea473b" stroke-width="0.9"/>
<rect x="220.6" y="297.4" width="150.1" height="99.5" fill="none" stroke="#ea473b" stroke-width="1"/>
<line x1="370.7" y1="297.4" x2="454.8" y2="295.7" stroke="#ea473b" stroke-width="0.9"/>
<line x1="370.7" y1="396.9" x2="454.8" y2="321" stroke="#ea473b" stroke-width="1.1"/>
<path d="M243 297.6 L243 374.3 L350.5 374.3" fill="none" stroke="#231f20" stroke-width="0.8" stroke-linejoin="miter" stroke-linecap="butt"/>
<line x1="273.77" y1="374.3" x2="273.77" y2="376.3" stroke="#231f20" stroke-width="0.8"/>
<line x1="311.75" y1="374.3" x2="311.75" y2="376.3" stroke="#231f20" stroke-width="0.8"/>
<line x1="349.74" y1="374.3" x2="349.74" y2="376.3" stroke="#231f20" stroke-width="0.8"/>
<line x1="254.78" y1="374.3" x2="254.78" y2="375.5" stroke="#231f20" stroke-width="0.8"/>
<line x1="292.76" y1="374.3" x2="292.76" y2="375.5" stroke="#231f20" stroke-width="0.8"/>
<line x1="330.75" y1="374.3" x2="330.75" y2="375.5" stroke="#231f20" stroke-width="0.8"/>
<line x1="243" y1="374.3" x2="241" y2="374.3" stroke="#231f20" stroke-width="0.8"/>
<line x1="243" y1="360.34" x2="241" y2="360.34" stroke="#231f20" stroke-width="0.8"/>
<line x1="243" y1="346.38" x2="241" y2="346.38" stroke="#231f20" stroke-width="0.8"/>
<line x1="243" y1="332.42" x2="241" y2="332.42" stroke="#231f20" stroke-width="0.8"/>
<line x1="243" y1="318.46" x2="241" y2="318.46" stroke="#231f20" stroke-width="0.8"/>
<line x1="243" y1="304.5" x2="241" y2="304.5" stroke="#231f20" stroke-width="0.8"/>
<line x1="243" y1="367.32" x2="241.8" y2="367.32" stroke="#231f20" stroke-width="0.8"/>
<line x1="243" y1="353.36" x2="241.8" y2="353.36" stroke="#231f20" stroke-width="0.8"/>
<line x1="243" y1="339.4" x2="241.8" y2="339.4" stroke="#231f20" stroke-width="0.8"/>
<line x1="243" y1="325.44" x2="241.8" y2="325.44" stroke="#231f20" stroke-width="0.8"/>
<line x1="243" y1="311.48" x2="241.8" y2="311.48" stroke="#231f20" stroke-width="0.8"/>
<text x="273.77" y="383.5" font-size="9.4" text-anchor="middle" fill="#231f20" stroke="#231f20" stroke-width="0.08">1396.265</text>
<text x="311.75" y="383.5" font-size="9.4" text-anchor="middle" fill="#231f20" stroke="#231f20" stroke-width="0.08">1396.270</text>
<text x="349.74" y="383.5" font-size="9.4" text-anchor="middle" fill="#231f20" stroke="#231f20" stroke-width="0.08">1396.275</text>
<text x="241" y="377.9" font-size="9.5" text-anchor="end" fill="#231f20" stroke="#231f20" stroke-width="0.09">50</text>
<text x="241" y="363.94" font-size="9.5" text-anchor="end" fill="#231f20" stroke="#231f20" stroke-width="0.09">52</text>
<text x="241" y="349.98" font-size="9.5" text-anchor="end" fill="#231f20" stroke="#231f20" stroke-width="0.09">54</text>
<text x="241" y="336.02" font-size="9.5" text-anchor="end" fill="#231f20" stroke="#231f20" stroke-width="0.09">56</text>
<text x="241" y="322.06" font-size="9.5" text-anchor="end" fill="#231f20" stroke="#231f20" stroke-width="0.09">58</text>
<text x="241" y="308.1" font-size="9.5" text-anchor="end" fill="#231f20" stroke="#231f20" stroke-width="0.09">60</text>
<text x="296.3" y="394.3" font-size="9.6" text-anchor="middle" fill="#231f20" stroke="#231f20" stroke-width="0.09">Time (Sec)</text>
<text x="229" y="337.3" font-size="9.4" text-anchor="middle" fill="#231f20" stroke="#231f20" stroke-width="0.08" transform="rotate(-90 229 337.3)">Stress (MPa)</text>
<path d="M243.2 339.5 L281.3 333 L319.2 301.2 L334.3 374.3" fill="none" stroke="#231f20" stroke-width="0.85" stroke-linejoin="miter" stroke-linecap="butt"/>
</svg>
</body>
</html>
